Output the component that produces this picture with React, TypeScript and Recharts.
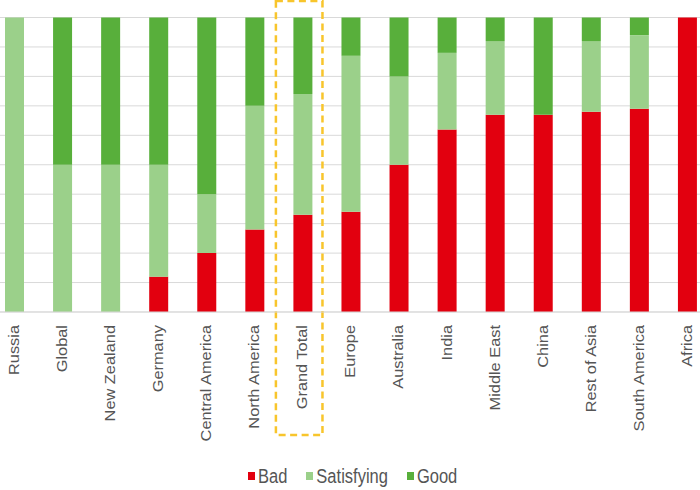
import React from 'react';
import { BarChart, Bar, XAxis, YAxis, CartesianGrid, ReferenceArea } from 'recharts';

const categories = [
  'Russia', 'Global', 'New Zealand', 'Germany', 'Central America', 'North America', 'Grand Total',
  'Europe', 'Australia', 'India', 'Middle East', 'China', 'Rest of Asia', 'South America', 'Africa',
];
const bad = [0, 0, 0, 12, 20, 28, 33, 34, 50, 62, 67, 67, 68, 69, 100];
const satisfying = [100, 50, 50, 38, 20, 42, 41, 53, 30, 26, 25, 0, 24, 25, 0];
const good = [0, 50, 50, 50, 60, 30, 26, 13, 20, 12, 8, 33, 8, 6, 0];
const seriesNames = ['Bad', 'Satisfying', 'Good'];
const seriesColors = ['#E2000F', '#9BD08A', '#58AF3B'];
const yTicks = [0, 10, 20, 30, 40, 50, 60, 70, 80, 90, 100];
const highlighted = 'Grand Total';

const seriesValues = [bad, satisfying, good];
const data = categories.map((name, i) => {
  const row: Record<string, string | number> = { name };
  seriesNames.forEach((s, k) => {
    row[s] = seriesValues[k][i];
  });
  return row;
});

const FONT = "'Liberation Sans', Arial, sans-serif";
const TEXT = '#555555';
const STRETCH = 1.17;

const Tick = (props: any) => {
  const { x, y, payload } = props;
  return (
    <g transform={`translate(${x},${y}) scale(1,${STRETCH})`}>
      <text
        x={0}
        y={0}
        dy="0.35em"
        transform="rotate(-90)"
        textAnchor="end"
        fill={TEXT}
        fontSize={14}
        fontFamily={FONT}
      >
        {payload.value}
      </text>
    </g>
  );
};

const HighlightBox = (props: any) => {
  const { x, y, width, height } = props;
  return (
    <rect
      x={x - 2.5}
      y={y}
      width={width - 1.5}
      height={height}
      fill="none"
      stroke="#F8C52C"
      strokeWidth={2.5}
      strokeDasharray="7 4.5"
    />
  );
};

export default function App() {
  return (
    <div
      style={{
        position: 'absolute',
        left: 0,
        top: 0,
        width: 700,
        height: 490,
        overflow: 'hidden',
        background: '#ffffff',
      }}
    >
      <div style={{ position: 'absolute', left: -10.5, top: 0 }}>
        <BarChart
          width={721}
          height={490}
          data={data}
          margin={{ top: 17.5, right: 0, left: 0, bottom: 0 }}
        >
          <CartesianGrid vertical={false} stroke="#D9D9D9" />
          <YAxis hide domain={[0, 100]} ticks={yTicks} type="number" />
          <XAxis
            dataKey="name"
            height={178}
            interval={0}
            tickLine={false}
            tickSize={0}
            tickMargin={13}
            axisLine={{ stroke: '#D9D9D9' }}
            tick={<Tick />}
          />
          {seriesNames.map((s, k) => (
            <Bar
              key={s}
              dataKey={s}
              stackId="a"
              fill={seriesColors[k]}
              barSize={19}
              isAnimationActive={false}
            />
          ))}
          <ReferenceArea
            x1={highlighted}
            x2={highlighted}
            y1={-41.8}
            y2={105.6}
            ifOverflow="visible"
            shape={<HighlightBox />}
          />
        </BarChart>
      </div>
      <div
        style={{
          position: 'absolute',
          left: 248,
          top: 468,
          display: 'flex',
          alignItems: 'center',
          fontFamily: FONT,
          fontSize: 16.5,
          lineHeight: '16.5px',
          color: TEXT,
          whiteSpace: 'nowrap',
        }}
      >
        {seriesNames.map((s, k) => (
          <div key={s} style={{ display: 'flex', alignItems: 'center', marginRight: 19 }}>
            <div style={{ width: 7, height: 8, background: seriesColors[k], marginRight: 3 }} />
            <span style={{ display: 'inline-block', transform: `scaleY(${STRETCH})` }}>{s}</span>
          </div>
        ))}
      </div>
    </div>
  );
}
